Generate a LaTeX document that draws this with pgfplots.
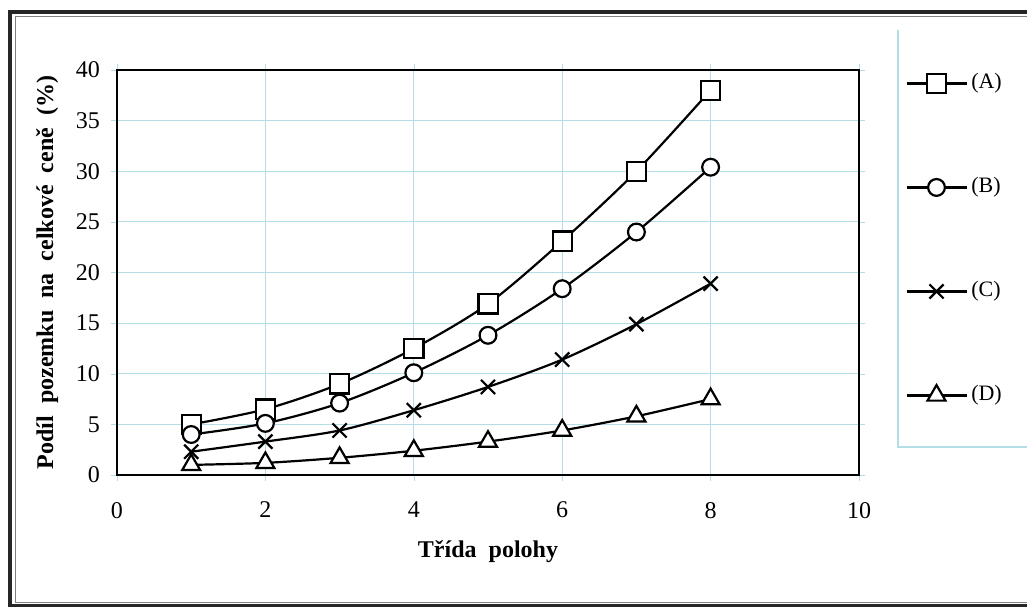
\documentclass[border=0pt]{standalone}
\usepackage{fontspec}
\setmainfont{Liberation Serif}
\usepackage{pgfplots}
\pgfplotsset{compat=1.18}
\definecolor{gridc}{RGB}{180,222,230}
\begin{document}
\begin{tikzpicture}
\useasboundingbox (0pt,0pt) rectangle (513.5pt,303.5pt);
% outer frame
\draw[line width=1.6pt, black!85] (5pt,0.6pt) rectangle (520pt,297.5pt);
\draw[line width=0.5pt, black!50] (7.5pt,2.2pt) rectangle (520pt,295.2pt);
% legend box lines
\draw[gridc, line width=0.6pt] (449pt,288.5pt) -- (449pt,80pt) -- (520pt,80pt);
\begin{axis}[
  at={(58.5pt,66pt)}, anchor=south west,
  scale only axis, width=371pt, height=202.5pt,
  xmin=0, xmax=10, ymin=0, ymax=40,
  xtick={0,2,4,6,8,10}, ytick={0,5,10,15,20,25,30,35,40},
  grid=major,
  major grid style={gridc, line width=0.6pt},
  axis line style={line width=1.3pt},
  tick align=outside, major tick length=3pt,
  tick style={gridc},
  /pgf/number format/assume math mode=true,
  tick label style={font=\fontsize{12}{14}\selectfont},
  xticklabel style={yshift=-7pt},
  yticklabel style={xshift=-2pt},
  xlabel={\textbf{Třída\ \ polohy}},
  ylabel={\textbf{Podíl\ \ pozemku\ \ na\ \ celkové\ \ ceně\ \ (\%)}},
  label style={font=\fontsize{12}{14}\selectfont},
  xlabel style={at={(axis description cs:0.5,-0.19)}, anchor=center},
  ylabel style={at={(axis description cs:-0.094,0.5)}, anchor=center},
  legend style={at={(1.062,0.995)}, anchor=north west, draw=none, fill=none,
    inner sep=0pt, row sep=41pt,
    nodes={inner sep=0pt, text height=8pt, text depth=3pt, anchor=west,
      font=\fontsize{11}{13}\selectfont}},
  legend cell align=left,
  legend image code/.code={\draw[mark repeat=2,mark phase=2,#1] plot coordinates {(0pt,0pt) (15pt,0pt) (30pt,0pt)};},
]
\addplot[black, line width=1.1pt, smooth, tension=0.5, mark=square*, mark size=4.8pt, mark options={solid, line width=1.1pt, draw=black, fill=white}] coordinates {(1,5.0) (2,6.5) (3,9.0) (4,12.5) (5,16.9) (6,23.1) (7,30.0) (8,38.0)};
\addlegendentry{\,(A)}
\addplot[black, line width=1.1pt, smooth, tension=0.5, mark=*, mark size=4.2pt, mark options={solid, line width=1.1pt, draw=black, fill=white}] coordinates {(1,4.0) (2,5.1) (3,7.1) (4,10.1) (5,13.8) (6,18.4) (7,24.0) (8,30.4)};
\addlegendentry{\,(B)}
\addplot[black, line width=1.1pt, smooth, tension=0.5, mark=x, mark size=5pt, mark options={solid, line width=1.1pt}] coordinates {(1,2.3) (2,3.3) (3,4.4) (4,6.4) (5,8.7) (6,11.4) (7,14.9) (8,18.9)};
\addlegendentry{\,(C)}
\addplot[black, line width=1.1pt, smooth, tension=0.5, mark=triangle*, mark size=5.2pt, mark options={solid, line width=1.1pt, draw=black, fill=white}] coordinates {(1,1.0) (2,1.2) (3,1.7) (4,2.4) (5,3.3) (6,4.4) (7,5.8) (8,7.5)};
\addlegendentry{\,(D)}
\end{axis}
\end{tikzpicture}
\end{document}
